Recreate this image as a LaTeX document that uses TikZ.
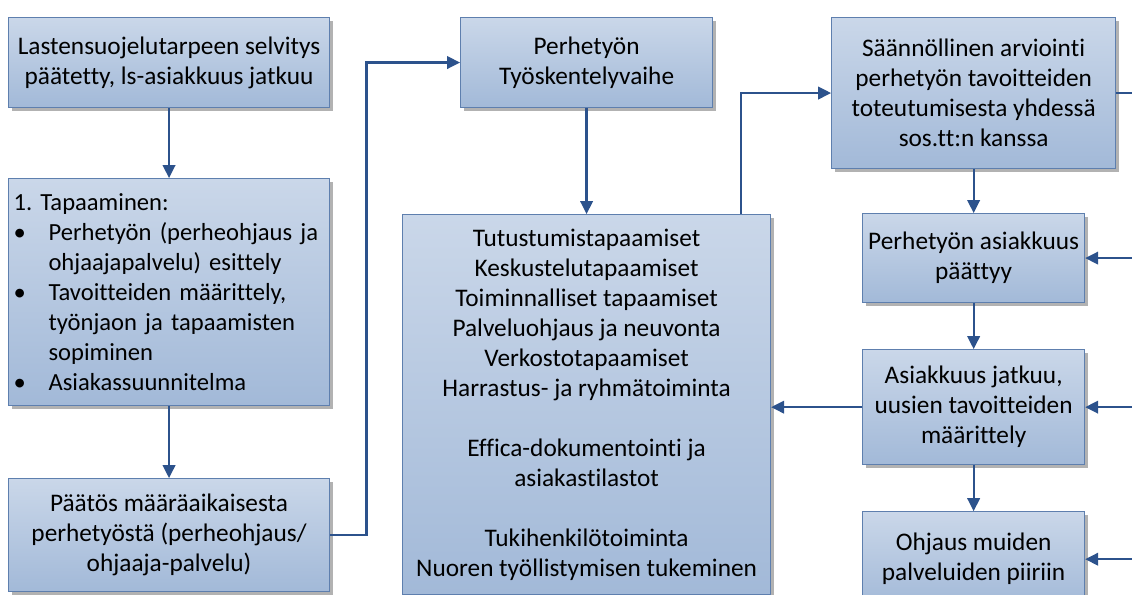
\documentclass[tikz,border=0pt]{standalone}
\usepackage{fontspec}
\setmainfont{Carlito}[Ligatures=NoCommon]
\usepackage{xcolor}
\usepackage{tikz}
\usetikzlibrary{positioning,shadows,arrows.meta}
\definecolor{boxtop}{RGB}{202,215,233}
\definecolor{boxbottom}{RGB}{162,185,216}
\definecolor{boxborder}{RGB}{94,127,174}
\definecolor{arrowblue}{RGB}{44,82,140}
\newcommand{\bitem}{\makebox[0.7cm][l]{\textbullet}}
\newcommand{\bindent}{\hspace*{0.7cm}}
\frenchspacing

\begin{document}
\begin{tikzpicture}[>={Triangle[length=0.26cm,width=0.25cm]}]
    \tikzstyle{stage} = [rectangle, draw=boxborder, line width=0.6pt, top color=boxtop, bottom color=boxbottom, drop shadow={shadow xshift=0.06cm, shadow yshift=-0.06cm, fill=black, opacity=0.3}, align=center, inner sep=0pt, font=\fontsize{14.4}{17.07}\selectfont]
    \tikzstyle{flow} = [draw=arrowblue, line width=1.3pt]
    \useasboundingbox (0,0) rectangle (22.64,-11.88);

    % Left column
    \node [stage, minimum width=6.42cm, minimum height=1.8cm, anchor=north west] (ls_decision) at (0.16,-0.34) {Lastensuojelutarpeen selvitys\\päätetty, ls-asiakkuus jatkuu};
    \node [stage, text width=6.22cm, inner xsep=0.1cm, minimum height=4.54cm, align=left, font=\fontsize{14}{17.07}\selectfont, below=1.4cm of ls_decision] (first_meeting) {1. Tapaaminen:\\
        \bitem Perhetyön (perheohjaus ja\\
        \bindent ohjaajapalvelu) esittely\\
        \bitem Tavoitteiden määrittely,\\
        \bindent työnjaon ja tapaamisten\\
        \bindent sopiminen\\
        \bitem Asiakassuunnitelma};
    \node [stage, minimum width=6.42cm, minimum height=2.26cm, below=1.44cm of first_meeting] (decision) {Päätös määräaikaisesta\\perhetyöstä (perheohjaus/\\ohjaaja-palvelu)};

    % Middle column
    \node [stage, minimum width=5.04cm, minimum height=1.8cm, right=2.6cm of ls_decision] (work_phase) {Perhetyön\\Työskentelyvaihe};
    \node [stage, minimum width=7.36cm, minimum height=7.6cm, below=2.12cm of work_phase] (work_forms) {Tutustumistapaamiset\\Keskustelutapaamiset\\Toiminnalliset tapaamiset\\Palveluohjaus ja neuvonta\\Verkostotapaamiset\\Harrastus- ja ryhmätoiminta\\ \mbox{}\\Effica-dokumentointi ja\\asiakastilastot\\ \mbox{}\\Tukihenkilötoiminta\\Nuoren työllistymisen tukeminen};

    % Right column
    \node [stage, minimum width=5.68cm, minimum height=3.02cm, right=2.36cm of work_phase.north east, anchor=north west] (evaluation) {Säännöllinen arviointi\\perhetyön tavoitteiden\\toteutumisesta yhdessä\\sos.tt:n kanssa};
    \node [stage, minimum width=4.44cm, minimum height=1.78cm, below=0.88cm of evaluation] (end_client) {Perhetyön asiakkuus\\päättyy};
    \node [stage, minimum width=4.44cm, minimum height=2.3cm, below=0.92cm of end_client] (continue_client) {Asiakkuus jatkuu,\\uusien tavoitteiden\\määrittely};
    \node [stage, minimum width=4.44cm, minimum height=1.9cm, below=0.92cm of continue_client] (referral) {Ohjaus muiden\\palveluiden piiriin};

    % Loose ends at the right rim
    \coordinate [right=0.45cm of evaluation.east] (rim_eval);
    \coordinate [right=1.05cm of end_client.east] (rim_end);
    \coordinate [right=1.05cm of continue_client.east] (rim_continue);
    \coordinate [right=1.05cm of referral.east] (rim_referral);

    % Arrows
    \draw [flow, ->] (ls_decision) -- (first_meeting);
    \draw [flow, ->] (first_meeting) -- (decision);
    \draw [flow, ->] (decision.east) -- ++(0.73,0) |- (work_phase.west);
    \draw [flow, ->] (work_phase) -- (work_forms);
    \draw [flow, ->] ([xshift=-0.6cm]work_forms.north east) |- (evaluation.west);
    \draw [flow] (evaluation.east) -- (rim_eval);
    \draw [flow, ->] (evaluation) -- (end_client);
    \draw [flow, ->] (end_client) -- (continue_client);
    \draw [flow, ->] (continue_client) -- (referral);
    \draw [flow, ->] (continue_client.west) -- (work_forms.east |- continue_client.west);
    \draw [flow, ->] (rim_end) -- (end_client.east);
    \draw [flow, ->] (rim_continue) -- (continue_client.east);
    \draw [flow, ->] (rim_referral) -- (referral.east);
\end{tikzpicture}
\end{document}
